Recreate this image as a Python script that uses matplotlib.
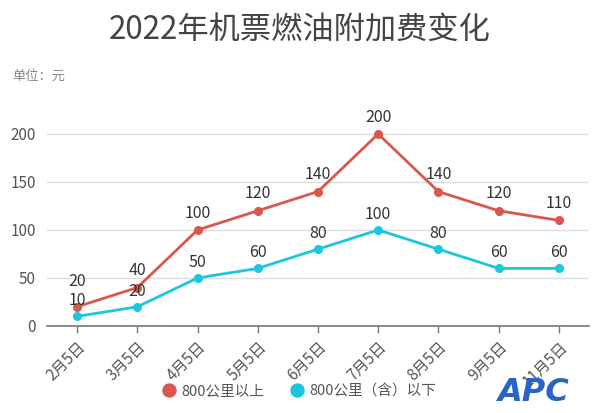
import matplotlib.pyplot as plt

plt.rcParams['font.family'] = ['Noto Sans CJK SC', 'DejaVu Sans']

dates = ["2月5日", "3月5日", "4月5日", "5月5日", "6月5日", "7月5日", "8月5日", "9月5日", "11月5日"]
above_800 = [20, 40, 100, 120, 140, 200, 140, 120, 110]
below_800 = [10, 20, 50, 60, 80, 100, 80, 60, 60]
series_names = ["800公里以上", "800公里（含）以下"]

red = '#d9574f'
cyan = '#1cc7de'

fig = plt.figure(figsize=(6, 4.13), dpi=100)
ax = fig.add_axes([0.0783, 0.2107, 0.9033, 0.5114])

x = list(range(len(dates)))
ax.plot(x, above_800, color=red, lw=2, marker='o', ms=5.5, label=series_names[0], zorder=3)
ax.plot(x, below_800, color=cyan, lw=2, marker='o', ms=5.5, label=series_names[1], zorder=3)

for i in x:
    # first red label sits higher so it clears the cyan one
    off = 12 if i == 0 else 6
    ax.annotate(str(above_800[i]), (i, above_800[i]), xytext=(0, off), textcoords='offset points',
                ha='center', va='bottom', fontsize=11.5, color='#333333')
    ax.annotate(str(below_800[i]), (i, below_800[i]), xytext=(0, 5), textcoords='offset points',
                ha='center', va='bottom', fontsize=11.5, color='#333333')

ax.set_xlim(-0.5, 8.5)
ax.set_ylim(0, 220)
ax.set_yticks([0, 50, 100, 150, 200])
ax.set_xticks(x)
ax.set_xticklabels(dates, rotation=45, ha='right', rotation_mode='anchor', fontsize=11, color='#555555')
ax.tick_params(axis='y', length=0, labelsize=11, labelcolor='#555555', pad=8)
ax.tick_params(axis='x', length=5, color='#777777', width=1, pad=4)
ax.grid(axis='y', color='#dddddd', lw=1)
ax.set_axisbelow(True)
for s in ['top', 'right', 'left']:
    ax.spines[s].set_visible(False)
ax.spines['bottom'].set_color('#777777')
ax.spines['bottom'].set_linewidth(1.2)

fig.text(0.5, 0.925, "2022年机票燃油附加费变化", ha='center', va='center', fontsize=22.5, color='#444444')
fig.text(0.02, 0.815, "单位：元", ha='left', va='center', fontsize=9.5, color='#888888')

ax.legend(loc='center', bbox_to_anchor=(0.465, -0.31), ncol=2, frameon=False, fontsize=10.5,
          labelcolor='#555555', handlelength=1, handletextpad=0.3, columnspacing=1.8,
          markerscale=1.7)
leg = ax.get_legend()
for h in leg.legend_handles:
    h.set_linestyle('none')

fig.text(0.888, 0.05, "APC", ha='center', va='center', fontsize=23, fontweight='bold',
         fontstyle='italic', color='#2a63c6', family='DejaVu Sans')

fig.savefig("out.png", dpi=100)
